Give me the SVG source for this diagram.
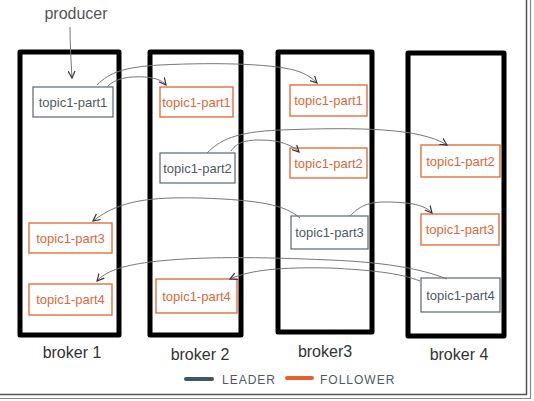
<svg xmlns="http://www.w3.org/2000/svg" width="534" height="401" viewBox="0 0 534 401">
<defs>
<marker id="ah" viewBox="0 0 8 8" refX="7" refY="4" markerWidth="8" markerHeight="8" markerUnits="userSpaceOnUse" orient="auto">
<path d="M0,0.5 L7,4 L0,7.5" fill="none" stroke="#333" stroke-width="1.2"/>
</marker>
<style>
.broker{fill:none;stroke:#000;stroke-width:5;stroke-linejoin:round}
.lead rect{fill:#fff;stroke:#5a6670;stroke-width:1.2}
.foll rect{fill:#fff;stroke:#e0703f;stroke-width:1.4}
.lead text{fill:#4e5a64}
.foll text{fill:#d9693a}
.box text{font-family:"Liberation Sans",Arial,sans-serif;font-size:13px;text-anchor:middle;dominant-baseline:central}
.lbl{font-family:"Liberation Sans",Arial,sans-serif;font-size:16px;fill:#333;text-anchor:middle}
.conn path{fill:none;stroke:#777;stroke-width:1;marker-end:url(#ah)}
.leg{font-family:"Liberation Sans",Arial,sans-serif;font-size:12px;letter-spacing:1px}
</style>
</defs>
<rect width="534" height="401" fill="#fff"/>

<!-- frame -->
<line x1="526.5" y1="0" x2="526.5" y2="395" stroke="#555" stroke-width="1.5"/>
<line x1="530.5" y1="0" x2="530.5" y2="399" stroke="#888" stroke-width="1.2"/>
<line x1="0" y1="394.5" x2="527" y2="394.5" stroke="#555" stroke-width="1.5"/>
<line x1="0" y1="398.5" x2="531" y2="398.5" stroke="#888" stroke-width="1.2"/>

<!-- brokers -->
<g id="broker1"><rect class="broker" x="20" y="52" width="99" height="283"/><text class="lbl" x="72" y="358">broker 1</text></g>
<g id="broker2"><rect class="broker" x="150" y="52" width="91" height="283"/><text class="lbl" x="200" y="360">broker 2</text></g>
<g id="broker3"><rect class="broker" x="278" y="52" width="94" height="280"/><text class="lbl" x="325" y="357">broker3</text></g>
<g id="broker4"><rect class="broker" x="408" y="53" width="96" height="283"/><text class="lbl" x="459" y="360">broker 4</text></g>

<!-- producer -->
<g id="producer">
<text x="76" y="19" font-family="Liberation Sans,Arial,sans-serif" font-size="16" fill="#555" text-anchor="middle">producer</text>
</g>

<!-- partitions -->
<g id="b1p1" class="box lead"><rect x="33" y="87" width="80" height="30"/><text x="73" y="102">topic1-part1</text></g>
<g id="b2p1" class="box foll"><rect x="160" y="87" width="73" height="30"/><text x="196.5" y="102">topic1-part1</text></g>
<g id="b2p2" class="box lead"><rect x="160" y="153" width="75" height="30"/><text x="197.5" y="168">topic1-part2</text></g>
<g id="b3p1" class="box foll"><rect x="290" y="85" width="77" height="31"/><text x="328.5" y="100.5">topic1-part1</text></g>
<g id="b3p2" class="box foll"><rect x="290" y="148" width="77" height="30"/><text x="328.5" y="163">topic1-part2</text></g>
<g id="b4p2" class="box foll"><rect x="421" y="145" width="79" height="32"/><text x="460.5" y="161">topic1-part2</text></g>
<g id="b3p3" class="box lead"><rect x="291" y="216" width="77" height="33"/><text x="329.5" y="232.5">topic1-part3</text></g>
<g id="b4p3" class="box foll"><rect x="421" y="214" width="78" height="31"/><text x="460" y="229.5">topic1-part3</text></g>
<g id="b4p4" class="box lead"><rect x="421" y="278" width="79" height="34"/><text x="460.5" y="295">topic1-part4</text></g>
<g id="b1p3" class="box foll"><rect x="29" y="223" width="83" height="30"/><text x="70.5" y="238">topic1-part3</text></g>
<g id="b1p4" class="box foll"><rect x="29" y="284" width="83" height="31"/><text x="70.5" y="299.5">topic1-part4</text></g>
<g id="b2p4" class="box foll"><rect x="156" y="279" width="81" height="34"/><text x="196.5" y="296">topic1-part4</text></g>

<!-- connectors -->
<g id="connectors" class="conn">
<path d="M70,27 C70,45 71,60 72,78" stroke="#666"/>
<path d="M107,87 C115,78 130,76 145,77 C155,78 162,80 166,85"/>
<path d="M97,85 C110,72 125,67 160,65 C220,62 280,64 300,72 C308,75 313,79 317,83"/>
<path d="M231,151 C236,144 242,140 260,140 C280,140 292,145 299,152"/>
<path d="M207,153 C220,140 235,132 280,130 C360,127 420,128 447,145"/>
<path d="M300,218 C285,205 260,200 200,198 C150,197 120,200 93,221"/>
<path d="M350,216 C358,208 365,202 385,202 C410,202 425,205 432,213"/>
<path d="M447,279 C420,268 380,262 330,260 C260,257 200,256 150,262 C120,266 105,272 97,281"/>
<path d="M420,281 C400,273 370,270 330,268 C280,267 250,270 230,279"/>
</g>

<!-- legend -->
<g id="legend">
<line x1="186" y1="379" x2="212" y2="379" stroke="#3f5664" stroke-width="4" stroke-linecap="round"/>
<text class="leg" x="222" y="384" fill="#4e5a64">LEADER</text>
<line x1="287" y1="378" x2="312" y2="378" stroke="#e4622a" stroke-width="4" stroke-linecap="round"/>
<text class="leg" x="320" y="384" fill="#4e5a64">FOLLOWER</text>
</g>
</svg>
